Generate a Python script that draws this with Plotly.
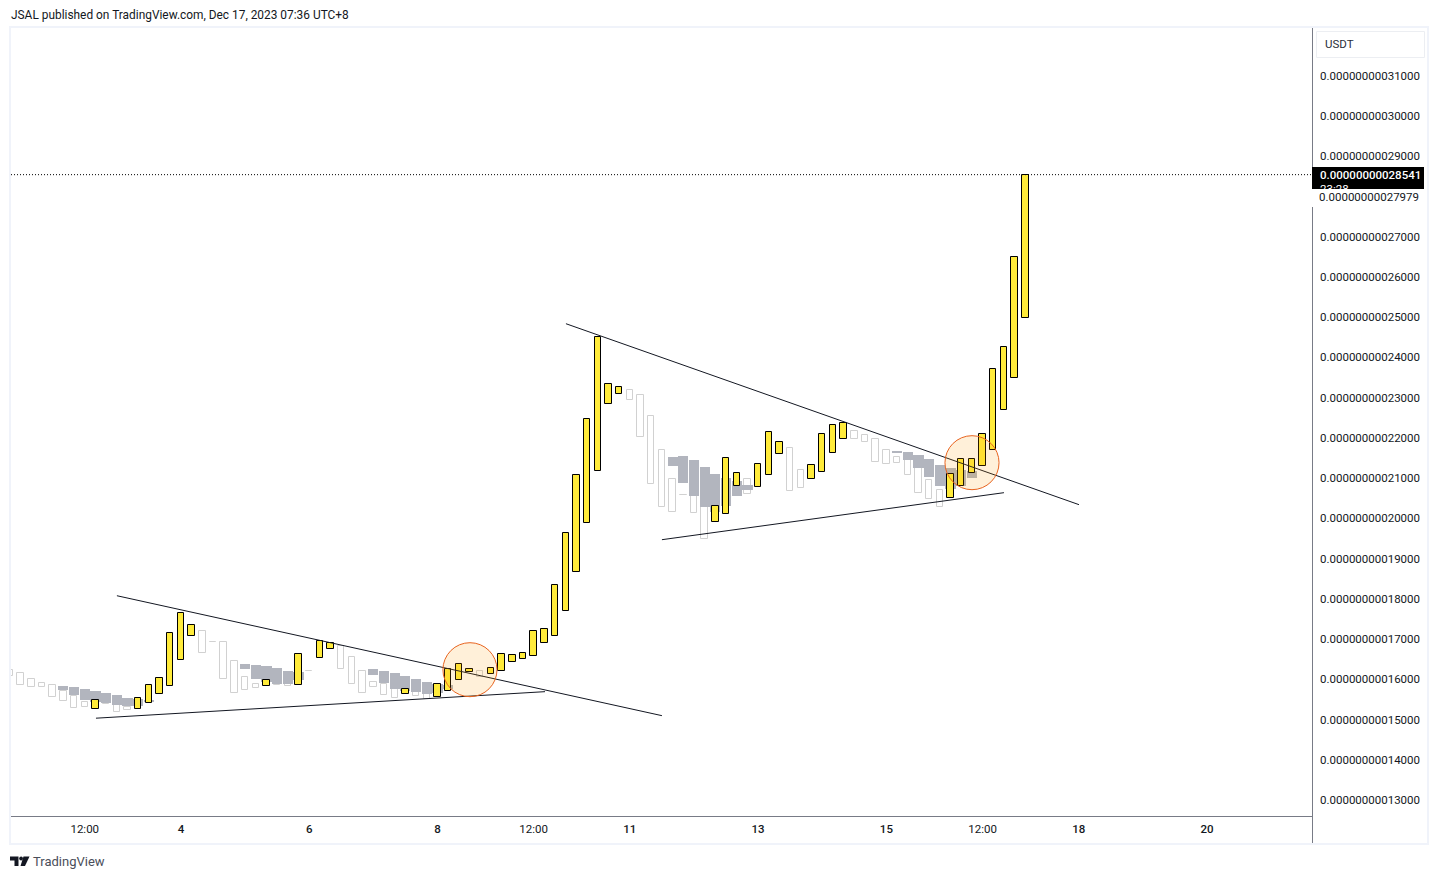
import plotly.graph_objects as go

# All prices are in units of 1e-14 USDT; x is the 4-hour bar number (0 = Dec 4, 00:00)
yellow_idx = [-8,-4,-3,-2,-1,0,1,8,11,13,14,21,24,25,26,27,29,30,31,32,33,34,35,36,37,38,39,40,41,50,51,52,54,55,56,59,60,61,62,72,73,74,75,76,77,78,79]
yellow_high = [15500,15539,15853,16036,17153,17650,17352,15986,16632,16955,16905,15762,15886,16259,16383,16259,16284,16632,16607,16656,17203,17253,18346,19646,21087,22478,24507,23340,23265,20309,21502,21129,21353,22147,21899,21327,22097,22321,22370,21103,21476,21476,22097,23721,24268,26503,28541]
yellow_low = [15275,15266,15415,15638,15837,16483,17079,15837,15862,16532,16756,15638,15563,15712,15986,16184,16135,16209,16433,16507,16582,16905,17079,17708,18677,19894,21179,22843,23091,19912,20111,20806,20781,21079,21601,20979,21153,21625,21973,20507,20805,21128,21302,21700,22702,23497,24988]

outline_idx = [-16,-15,-14,-13,-12,-11,-10,-9,-7,-6,-5,2,3,4,5,6,7,9,10,12,15,16,17,18,19,20,22,23,28,42,43,44,45,46,47,48,49,53,57,58,63,64,65,66,67,68,69,70,71]
outline_high = [16234,16160,16011,15911,15862,15713,15589,15440,15440,15406,15315,17203,16930,16930,16458,16060,15887,15911,15887,16218,16830,16557,16209,15936,15886,15762,15712,15638,16209,23191,23067,22545,21700,20980,20583,20558,20359,20980,21750,21203,22171,22072,21973,21700,21526,21451,21252,20954,20706]
outline_low = [16085,15862,15812,15812,15564,15464,15290,15315,15382,15191,15241,16657,16922,16011,15663,15737,15787,15862,15837,16209,16259,15886,15663,15812,15613,15539,15588,15514,16060,22942,22023,20856,20284,20160,20574,20135,19490,20607,20682,20756,21973,21898,21401,21352,21377,21079,20631,20482,20284]

grey_idx = [-11,-10,-9,-8,-7,-6,-5,-4,-3,6,7,8,9,10,11,18,19,20,21,22,23,24,25,46,47,48,49,50,51,52,53,67,68,69,70,71,72,73,74]
grey_high = [15845,15820,15771,15721,15671,15622,15547,15522,15497,16392,16367,16342,16292,16218,16193,16267,16218,16168,16093,16019,15944,15895,15870,21535,21560,21460,21286,21113,21013,20939,20839,21675,21658,21584,21484,21335,21261,21211,21186]
grey_low = [15746,15622,15497,15448,15423,15373,15348,15348,15448,16267,16019,15936,15887,15887,15986,16118,15919,15762,15712,15688,15638,15655,15770,21311,20872,20549,20276,20152,20318,20549,20715,21633,21459,21244,21021,20797,20731,20814,21012]

trend_lines = [
    ([-5.99, 45.0], [18080, 15100]),
    ([-7.95, 34.06], [15037, 15696]),
    ([36.02, 84.02], [24838, 20342]),
    ([45.0, 77.0], [19472, 20640]),
]
circle_idx = [27.04, 74.01]
circle_price = [16242, 21385]

MED = '<span style="font-weight:500">%s</span>'
x_tick_idx = [-9, 0, 12, 24, 33, 42, 54, 66, 75, 84, 96]
x_tick_text = ["12:00", MED % "4", MED % "6", MED % "8", "12:00", MED % "11", MED % "13", MED % "15", "12:00", MED % "18", MED % "20"]
y_tick_vals = [31000,30000,29000,27000,26000,25000,24000,23000,22000,21000,20000,19000,18000,17000,16000,15000,14000,13000]
last_price = 28541
extra_tick = 27979

W, H = 1438, 879
L, R, T, B = 11, 1312, 28, 816
FONT = "Roboto"
INK = "#131722"

def label(v):
    return "0.%014d" % v

def px(x): return (x - L) / (R - L)
def py(y): return (B - y) / (B - T)

fig = go.Figure()
fig.add_bar(x=outline_idx, base=outline_low, y=[h - l for h, l in zip(outline_high, outline_low)],
            width=0.6, marker=dict(color="#ffffff", line=dict(color="#d1d1d1", width=1)))
fig.add_bar(x=grey_idx, base=grey_low, y=[h - l for h, l in zip(grey_high, grey_low)],
            width=0.95, marker=dict(color="#b2b5be", line=dict(width=0)))
fig.add_bar(x=yellow_idx, base=yellow_low, y=[h - l for h, l in zip(yellow_high, yellow_low)],
            width=0.6, marker=dict(color="#ffeb3b", line=dict(color="#000000", width=1)))

shapes = []
for xs, ys in trend_lines:
    shapes.append(dict(type="line", xref="x", yref="y", x0=xs[0], x1=xs[1], y0=ys[0], y1=ys[1],
                       line=dict(color=INK, width=1), layer="above"))
for cx, cy in zip(circle_idx, circle_price):
    shapes.append(dict(type="circle", xref="x", yref="y", x0=cx - 2.53, x1=cx + 2.53, y0=cy - 671, y1=cy + 671,
                       line=dict(color="#e8641f", width=1), fillcolor="rgba(255,152,0,0.15)", layer="above"))
shapes.append(dict(type="line", xref="paper", yref="y", x0=px(L), x1=px(R), y0=last_price, y1=last_price,
                   line=dict(color="#000000", width=1, dash="1px,2px"), layer="above"))

def rect(x0, y0, x1, y1, **kw):
    return dict(type="rect", xref="paper", yref="paper", x0=px(x0), x1=px(x1), y0=py(y1), y1=py(y0), **kw)

def seg(x0, y0, x1, y1, color="#787b86", width=1):
    return dict(type="line", xref="paper", yref="paper", x0=px(x0), x1=px(x1), y0=py(y0), y1=py(y1),
                line=dict(color=color, width=width), layer="above")

def path(points, r=None):
    s = ""
    for i, (a, b) in enumerate(points):
        s += ("M" if i == 0 else "L") + f"{px(a):.5f},{py(b):.5f} "
    return s + "Z"

# frame and axis rules
shapes.append(rect(10, 27, 1428, 844, line=dict(color="#f0f3fa", width=2), layer="above"))
shapes.append(seg(11, B + 0.5, R, B + 0.5))
shapes.append(seg(R + 0.5, 28, R + 0.5, 167))
shapes.append(seg(R + 0.5, 207, R + 0.5, 843))
# currency button
shapes.append(rect(1316.5, 31.5, 1424.5, 57.5, line=dict(color="#eceef2", width=1), fillcolor="#ffffff", layer="above"))
# last-price tag
shapes.append(rect(1312, 167, 1424, 189, line=dict(width=0), fillcolor="#000000", layer="above"))
# TradingView mark
logo = [
    [(10, 856.5), (18.5, 856.5), (18.5, 866), (14.5, 866), (14.5, 860.5), (10, 860.5)],
    [(23.5, 856.5), (29.5, 856.5), (25, 866), (20.5, 866)],
]
for p in logo:
    shapes.append(dict(type="path", xref="paper", yref="paper", path=path(p), fillcolor=INK,
                       line=dict(width=0), layer="above"))
shapes.append(dict(type="circle", xref="paper", yref="paper", x0=px(19.2), x1=px(23), y0=py(860.5), y1=py(856.5),
                   fillcolor=INK, line=dict(width=0), layer="above"))

anns = [
    dict(text="JSAL published on TradingView.com, Dec 17, 2023 07:36 UTC+8", xref="paper", yref="paper",
         x=px(8.5), y=py(14.5), xanchor="left", yanchor="middle", showarrow=False,
         font=dict(family=FONT, size=11.9, color=INK)),
    dict(text="USDT", xref="paper", yref="paper", x=px(1323), y=py(44), xanchor="left", yanchor="middle",
         showarrow=False, font=dict(family=FONT, size=11.5, color="#2a2e39")),
    dict(text=MED % label(last_price), xref="paper", yref="y", x=px(1318), y=last_price,
         xanchor="left", yanchor="middle", showarrow=False, font=dict(family=FONT, size=11.5, color="#ffffff")),
    dict(text="23:28", xref="paper", yref="paper", x=px(1318), y=py(189), xanchor="left", yanchor="middle",
         showarrow=False, font=dict(family=FONT, size=11.5, color="#ffffff")),
    dict(text=label(extra_tick), xref="paper", yref="y", x=px(1318), y=extra_tick, xanchor="left", yanchor="middle",
         showarrow=False, bgcolor="#ffffff", borderpad=0,
         font=dict(family=FONT, size=11.5, color=INK)),
    dict(text="TradingView", xref="paper", yref="paper", x=px(31), y=py(861.5), xanchor="left", yanchor="middle",
         showarrow=False, font=dict(family=FONT, size=13, color="#4a4e5a")),
]

fig.update_layout(
    width=W, height=H, autosize=False, showlegend=False, barmode="overlay", bargap=0,
    paper_bgcolor="#ffffff", plot_bgcolor="#ffffff",
    margin=dict(l=L, r=W - R, t=T, b=H - B, pad=0),
    font=dict(family=FONT, color=INK),
    shapes=shapes, annotations=anns,
    xaxis=dict(range=[-15.9, 105.82], tickmode="array", tickvals=x_tick_idx, ticktext=x_tick_text,
               showgrid=False, zeroline=False, showline=False, ticks="", tickangle=0,
               tickfont=dict(family=FONT, size=11.5, color=INK), ticklabelstandoff=4),
    yaxis=dict(range=[12607, 32185], side="right", tickmode="array", tickvals=y_tick_vals,
               ticktext=[label(v) for v in y_tick_vals], showgrid=False, zeroline=False, showline=False, ticks="",
               tickfont=dict(family=FONT, size=11.5, color=INK), ticklabelstandoff=7),
)
fig.update_traces(hoverinfo="skip")

fig.write_html("out.html", config=dict(displayModeBar=False),
               post_script="document.body.style.margin='0';document.body.style.overflow='hidden';")
